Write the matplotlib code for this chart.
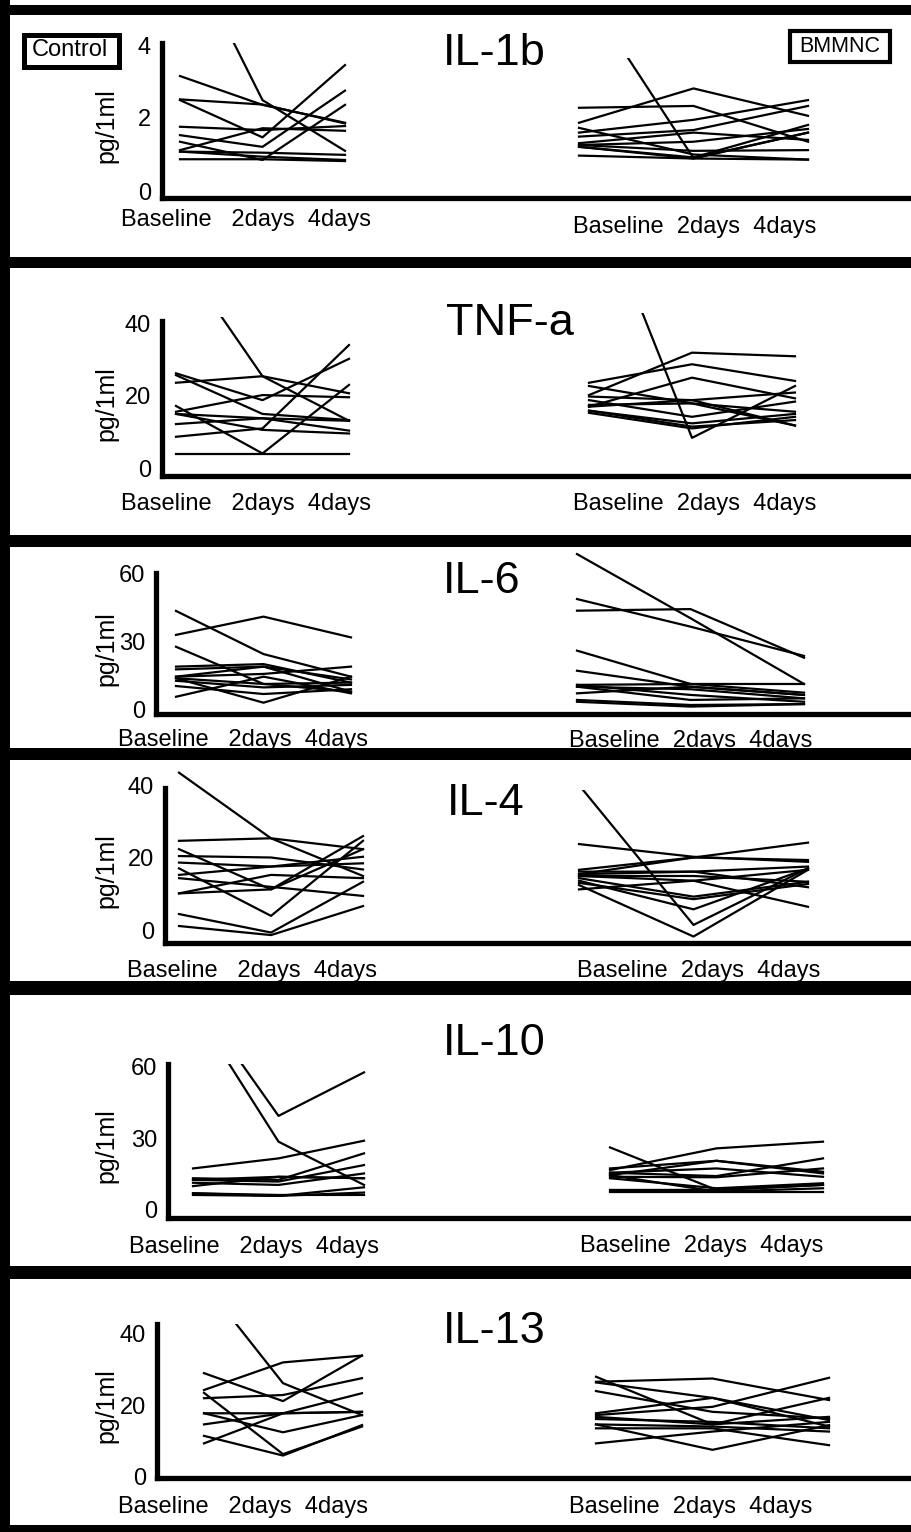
import matplotlib
matplotlib.use("Agg")
import matplotlib.pyplot as plt
from matplotlib.patches import Rectangle

plt.rcParams['font.family'] = ['Liberation Sans', 'DejaVu Sans']

W, H = 912, 1532  # canvas size in pixels

days = ['Baseline', '2days', '4days']
ctrl_days_text = 'Baseline   2days  4days'
bm_days_text = 'Baseline  2days  4days'
cytokines = ['IL-1b', 'TNF-a', 'IL-6', 'IL-4', 'IL-10', 'IL-13']
yticks = [[0, 2, 4], [0, 20, 40], [0, 30, 60], [0, 20, 40], [0, 30, 60], [0, 20, 40]]

# one row per animal: baseline, 2days, 4days (pg/1ml)
il1b_ctrl = [[7.0, 2.49, 1.10], [3.15, 2.36, 1.87], [2.51, 2.37, 1.85], [2.49, 1.47, 3.45],
             [1.76, 1.67, 1.78], [1.53, 1.21, 2.75], [1.35, 0.85, 2.36], [1.12, 1.72, 1.65],
             [1.08, 1.05, 0.99], [0.87, 0.87, 0.82], [1.08, 0.94, 0.85]]
il1b_bmmnc = [[2.28, 2.33, 1.35], [1.87, 2.81, 2.06], [1.73, 1.00, 0.86], [1.60, 1.95, 2.49],
              [1.49, 1.67, 2.33], [1.31, 1.60, 1.40], [1.26, 1.35, 1.70], [1.21, 0.92, 1.81],
              [0.97, 0.89, 0.86], [5.70, 0.90, 1.60], [1.26, 1.10, 1.12], [1.21, 0.89, 1.60]]

tnf_ctrl = [[60, 25.4, 13.1], [26.2, 18.8, 30.2], [25.7, 15.0, 13.3], [23.6, 25.4, 20.7],
            [17.2, 4.1, 23.0], [15.6, 20.2, 19.6], [15.0, 13.8, 10.4], [12.2, 13.8, 13.1],
            [8.7, 11.0, 34.0], [3.9, 3.9, 3.9], [15.0, 10.6, 9.6]]
tnf_bmmnc = [[80, 8.4, 22.7], [20.2, 31.9, 30.9], [23.6, 28.7, 24.1], [17.0, 25.0, 19.3],
             [22.7, 17.9, 11.8], [19.8, 18.8, 20.9], [18.8, 14.2, 18.4], [17.5, 17.9, 15.6],
             [15.9, 12.4, 15.0], [15.3, 11.0, 14.2], [15.9, 11.5, 13.3], [17.0, 18.8, 11.8]]

il6_ctrl = [[32.9, 40.9, 31.8], [43.4, 24.5, 14.6], [27.7, 11.4, 8.0], [19.0, 20.1, 12.0],
            [17.8, 19.0, 13.4], [14.6, 15.8, 19.0], [13.9, 3.2, 14.6], [12.8, 9.9, 11.0],
            [10.5, 7.0, 9.1], [5.8, 14.6, 7.3], [13.9, 11.4, 12.0], [14.6, 19.0, 8.0]]
il6_bmmnc = [[68.3, 40.2, 11.4], [48.6, 36.5, 23.7], [43.5, 44.2, 22.9], [26.0, 11.4, 11.4],
             [17.2, 10.2, 6.6], [11.0, 11.4, 7.6], [10.2, 9.1, 5.1], [7.3, 10.2, 6.6],
             [4.4, 2.2, 2.6], [3.6, 1.5, 2.6], [11.0, 6.6, 3.6], [10.2, 4.4, 5.1]]

il4_ctrl = [[43.4, 25.3, 14.9], [24.6, 25.3, 22.3], [22.3, 11.2, 25.9], [20.4, 20.0, 16.7],
            [18.6, 17.5, 18.4], [17.0, 3.9, 24.6], [15.2, 17.5, 20.2], [14.3, 11.9, 9.4],
            [10.1, 15.2, 14.3], [10.1, 11.2, 22.3], [4.4, -0.7, 13.3], [1.1, -1.4, 6.6]]
il4_bmmnc = [[40, 1.4, 17.0], [23.7, 20.2, 18.8], [16.6, 20.0, 24.1], [15.4, 20.0, 19.3],
             [16.1, 16.1, 17.5], [14.9, 13.6, 16.6], [14.3, 9.2, 13.3], [13.6, 5.7, 17.0],
             [13.0, 8.5, 12.7], [12.4, -1.8, 16.6], [11.2, 13.6, 6.4], [15.4, 16.1, 11.8],
             [14.9, 14.9, 13.3]]

il10_ctrl = [[85, 28.6, 10.5], [90, 39.4, 57.6], [17.4, 21.6, 29.0], [13.3, 12.6, 23.7],
             [12.6, 11.9, 18.8], [11.4, 10.5, 15.3], [10.0, 13.9, 13.3], [7.0, 5.9, 9.5],
             [6.3, 5.9, 7.3], [7.0, 6.3, 6.3], [12.6, 13.9, 13.3]]
il10_bmmnc = [[26.2, 8.4, 10.5], [16.7, 25.8, 28.6], [17.4, 20.6, 16.0], [15.6, 14.2, 21.6],
              [14.6, 20.6, 15.3], [13.9, 13.7, 17.4], [13.3, 9.1, 11.2], [8.4, 8.4, 10.5],
              [7.7, 7.7, 7.7], [15.6, 17.4, 13.9], [14.6, 7.7, 9.1]]

il13_ctrl = [[54, 26.1, 17.2], [28.9, 21.1, 33.8], [24.2, 31.9, 33.8], [21.9, 22.8, 27.5],
             [23.4, 6.3, 14.0], [17.7, 17.7, 18.1], [17.7, 12.4, 17.2], [14.6, 17.7, 23.3],
             [11.4, 5.9, 14.4], [9.3, 17.7, 18.1]]
il13_bmmnc = [[27.9, 14.6, 22.0], [26.5, 27.4, 21.4], [26.3, 22.0, 15.8], [23.9, 18.1, 16.3],
              [17.7, 22.0, 14.0], [17.2, 19.5, 27.6], [16.7, 14.6, 16.7], [16.1, 15.3, 13.5],
              [14.6, 14.0, 12.6], [14.6, 7.5, 14.4], [9.3, 12.6, 15.3], [13.5, 13.5, 8.8]]

ctrl_data = [il1b_ctrl, tnf_ctrl, il6_ctrl, il4_ctrl, il10_ctrl, il13_ctrl]
bm_data = [il1b_bmmnc, tnf_bmmnc, il6_bmmnc, il4_bmmnc, il10_bmmnc, il13_bmmnc]

# panel layout in pixels:
# zero, px per unit, axis bottom, spine top, ctrl clip top, bmmnc clip top, spine x,
# ctrl x0/step, bmmnc x0/step, title x/baseline, label positions
layout = [
    dict(zero=191, scale=36.5, bot=198, stop=43, ctop=43, btop=58, sx=162,
         cx=(180, 82.5), bx=(579, 114.5), title=(443, 65), cl=(246, 226), bl=(695, 233)),
    dict(zero=468.3, scale=3.625, bot=476, stop=321, ctop=317, btop=313, sx=162,
         cx=(176, 86.5), bx=(589, 103), title=(446, 335), cl=(246, 510), bl=(695, 510)),
    dict(zero=710, scale=2.283, bot=714, stop=573, ctop=550, btop=550, sx=156,
         cx=(176, 87.5), bx=(577, 113.5), title=(443, 593), cl=(243, 746), bl=(691, 747)),
    dict(zero=930, scale=3.625, bot=943, stop=788, ctop=762, btop=790, sx=165,
         cx=(179, 92), bx=(579, 114.5), title=(447, 815), cl=(252, 977), bl=(699, 977)),
    dict(zero=1210, scale=2.389, bot=1218, stop=1064, ctop=1064, btop=1000, sx=168,
         cx=(193, 85.5), bx=(610, 106.5), title=(443, 1055), cl=(254, 1253), bl=(702, 1252)),
    dict(zero=1476.7, scale=3.583, bot=1478, stop=1324, ctop=1324, btop=1285, sx=157,
         cx=(204, 79), bx=(596, 116.5), title=(443, 1343), cl=(243, 1513), bl=(691, 1513)),
]


def fx(px):
    return px / W


def fy(py):
    return 1 - py / H


fig = plt.figure(figsize=(W / 100, H / 100), dpi=100)
fig.patch.set_facecolor('white')

for i, lay in enumerate(layout):
    zero, sc, bot = lay['zero'], lay['scale'], lay['bot']

    # control group with the visible axes
    ax = fig.add_axes([fx(lay['sx']), fy(bot), fx(W) - fx(lay['sx']), (bot - lay['ctop']) / H])
    ax.set_facecolor('none')
    x0, step = lay['cx']
    ax.set_xlim((lay['sx'] - x0) / step, (W - x0) / step)
    ax.set_ylim((zero - bot) / sc, (zero - lay['ctop']) / sc)
    for row in ctrl_data[i]:
        ax.plot(range(len(days)), row, color='black', lw=1.6)
    for s in ['top', 'right']:
        ax.spines[s].set_visible(False)
    for s in ['left', 'bottom']:
        ax.spines[s].set_linewidth(3.8)
        ax.spines[s].set_capstyle('projecting')
    ax.spines['left'].set_bounds((zero - bot) / sc, (zero - lay['stop']) / sc)
    ax.set_xticks([])
    ax.set_yticks(yticks[i])
    ax.tick_params(axis='y', length=0, labelsize=17, pad=8)

    # BMMNC group, drawn without its own axis
    bx = fig.add_axes([fx(456), fy(bot), fx(W) - fx(456), (bot - lay['btop']) / H])
    bx.set_axis_off()
    b0, bstep = lay['bx']
    bx.set_xlim((456 - b0) / bstep, (W - b0) / bstep)
    bx.set_ylim((zero - bot) / sc, (zero - lay['btop']) / sc)
    for row in bm_data[i]:
        bx.plot(range(len(days)), row, color='black', lw=1.6)

    fig.text(fx(106), fy((lay['stop'] + bot) / 2 + 5), 'pg/1ml', rotation=90,
             ha='center', va='center', fontsize=18)
    fig.text(fx(lay['title'][0]), fy(lay['title'][1]), cytokines[i], fontsize=32.5,
             ha='left', va='baseline')
    fig.text(fx(lay['cl'][0]), fy(lay['cl'][1]), ctrl_days_text, fontsize=17,
             ha='center', va='baseline')
    fig.text(fx(lay['bl'][0]), fy(lay['bl'][1]), bm_days_text, fontsize=17,
             ha='center', va='baseline')

# thick black bands between panels and round the figure
bands = [(5, 15), (257, 268), (535, 547), (748, 760), (981, 995), (1266, 1279), (1525, 1532)]
for y1, y2 in bands:
    fig.add_artist(Rectangle((0, fy(y2)), 1, (y2 - y1) / H, transform=fig.transFigure,
                             facecolor='black', edgecolor='none'))
fig.add_artist(Rectangle((0, 0), fx(10), 1, transform=fig.transFigure,
                         facecolor='black', edgecolor='none'))

# group boxes
fig.add_artist(Rectangle((fx(24.5), fy(66.5)), fx(95), 32 / H, transform=fig.transFigure,
                         facecolor='white', edgecolor='black', lw=3.6))
fig.text(fx(70), fy(50.5), 'Control', fontsize=17, ha='center', va='center')
fig.add_artist(Rectangle((fx(790), fy(62)), fx(100), 31 / H, transform=fig.transFigure,
                         facecolor='white', edgecolor='black', lw=3.0))
fig.text(fx(840), fy(46.5), 'BMMNC', fontsize=15.5, ha='center', va='center')

fig.savefig('out.png', dpi=100, facecolor='white')
